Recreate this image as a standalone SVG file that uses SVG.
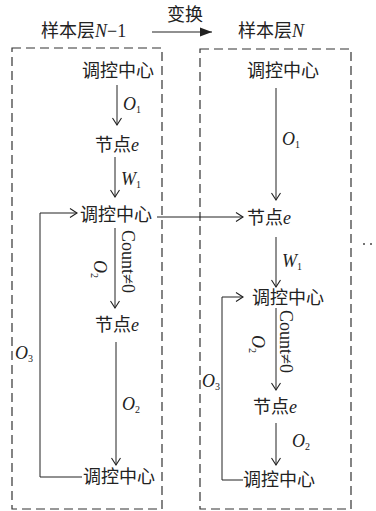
<svg xmlns="http://www.w3.org/2000/svg" width="376" height="511" viewBox="0 0 376 511">
<defs>
<marker id="open" markerUnits="userSpaceOnUse" markerWidth="12" markerHeight="12" refX="0" refY="0" viewBox="-9 -6 10 12" orient="auto" overflow="visible">
<path d="M-7,-4.5 L0,0 L-7,4.5" fill="none" stroke="#222" stroke-width="1.1"/>
</marker>
<marker id="solid" markerUnits="userSpaceOnUse" markerWidth="14" markerHeight="10" refX="0" refY="0" viewBox="-13 -5 14 10" orient="auto" overflow="visible">
<path d="M-12,-4.5 L0,0 L-12,4.5 Z" fill="#222"/>
</marker>
</defs>
<style>
.cn{font-family:"Noto Sans CJK SC","Noto Sans",sans-serif;font-size:18px;fill:#222}
.v{font-family:"Liberation Serif",serif;font-style:italic;font-size:18px;fill:#222}
.r{font-family:"Liberation Serif",serif;font-size:18px;fill:#222}
.sub{font-family:"Liberation Serif",serif;font-style:normal;font-size:10px}
.box{fill:none;stroke:#333;stroke-width:1.2;stroke-dasharray:9 5}
.ln{fill:none;stroke:#222;stroke-width:1}
.arr{fill:none;stroke:#222;stroke-width:1;marker-end:url(#open)}
</style>
<rect width="376" height="511" fill="#fff"/>

<g id="titles">
<text class="cn" x="41" y="37">样本层<tspan class="v">N</tspan><tspan class="r">−1</tspan></text>
<text class="cn" x="167" y="21">变换</text>
<text class="cn" x="238" y="37">样本层<tspan class="v">N</tspan></text>
</g>

<g id="layers">
<path class="box" d="M12,48 H162 V509 H12 Z"/>
<path class="box" d="M200,49 H351 V509 H200 Z"/>
</g>

<g id="L-c1"><text class="cn" x="82" y="77">调控中心</text></g>
<g id="L-e1"><text class="cn" x="95" y="151">节点<tspan class="v">e</tspan></text></g>
<g id="L-c2"><text class="cn" x="80" y="221">调控中心</text></g>
<g id="L-e2"><text class="cn" x="95" y="331">节点<tspan class="v">e</tspan></text></g>
<g id="L-c3"><text class="cn" x="83" y="483">调控中心</text></g>

<g id="R-c1"><text class="cn" x="247" y="77">调控中心</text></g>
<g id="R-e1"><text class="cn" x="247" y="224">节点<tspan class="v">e</tspan></text></g>
<g id="R-c2"><text class="cn" x="252" y="304">调控中心</text></g>
<g id="R-e2"><text class="cn" x="253" y="413">节点<tspan class="v">e</tspan></text></g>
<g id="R-c3"><text class="cn" x="243" y="486">调控中心</text></g>

<g id="dots">
<circle cx="364" cy="244" r="1" fill="#444"/>
<circle cx="371" cy="244" r="1" fill="#444"/>
</g>

<g id="connectors">
<line x1="152" y1="32" x2="212" y2="32" stroke="#222" stroke-width="1.2" marker-end="url(#solid)"/>

<line class="arr" x1="117" y1="85" x2="117" y2="125"/>
<line class="arr" x1="115" y1="157" x2="115" y2="197"/>
<line class="arr" x1="115" y1="228" x2="115" y2="308"/>
<line class="arr" x1="116" y1="342" x2="116" y2="465"/>
<path class="arr" d="M82,477 H40 V213 H77"/>
<line class="arr" x1="157" y1="217" x2="243" y2="217"/>

<line class="arr" x1="276" y1="88" x2="276" y2="200"/>
<line class="arr" x1="276" y1="237" x2="276" y2="287"/>
<line class="arr" x1="276" y1="308" x2="276" y2="390"/>
<line class="arr" x1="276" y1="423" x2="276" y2="465"/>
<path class="arr" d="M243,480 H222 V297 H243"/>

<text class="v" x="123" y="110">O<tspan class="sub" dy="3">1</tspan></text>
<text class="v" x="121" y="185">W<tspan class="sub" dy="3">1</tspan></text>
<text class="r" transform="translate(122,230) rotate(90)">Count≠0</text>
<text class="v" transform="translate(94,260) rotate(90)">O<tspan class="sub" dy="3">2</tspan></text>
<text class="v" x="122" y="410">O<tspan class="sub" dy="3">2</tspan></text>
<text class="v" x="15" y="359">O<tspan class="sub" dy="3">3</tspan></text>

<text class="v" x="282" y="145">O<tspan class="sub" dy="3">1</tspan></text>
<text class="v" x="282" y="267">W<tspan class="sub" dy="3">1</tspan></text>
<text class="r" transform="translate(280,310) rotate(90)">Count≠0</text>
<text class="v" transform="translate(252,335) rotate(90)">O<tspan class="sub" dy="3">2</tspan></text>
<text class="v" x="292" y="447">O<tspan class="sub" dy="3">2</tspan></text>
<text class="v" x="202" y="387">O<tspan class="sub" dy="3">3</tspan></text>
</g>
</svg>
